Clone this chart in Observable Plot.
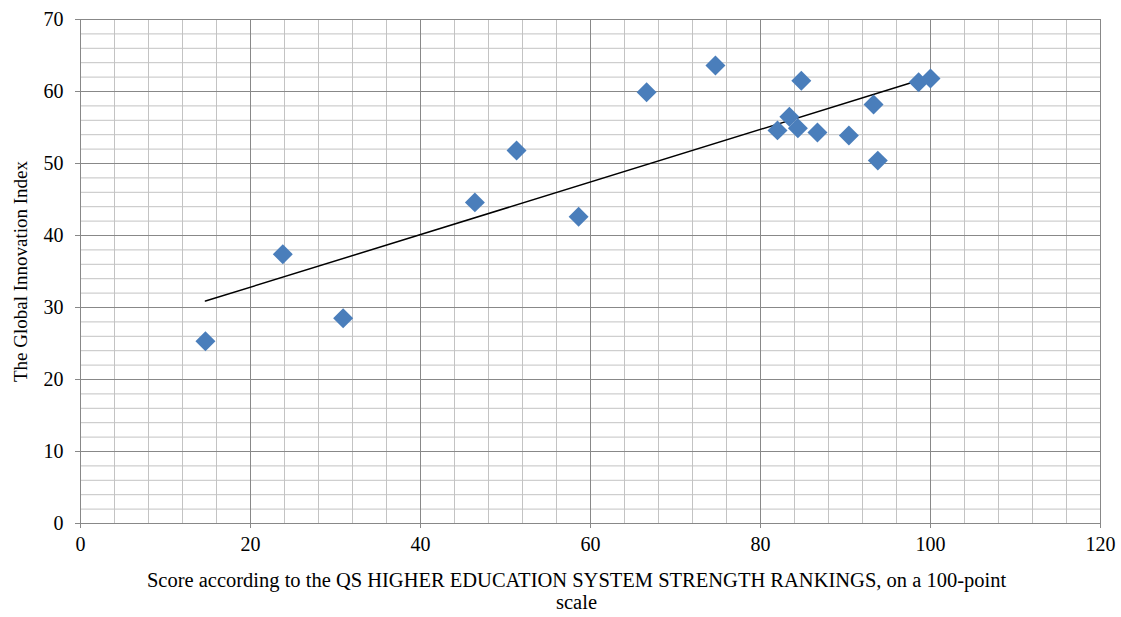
<!DOCTYPE html>
<html>
<head>
<meta charset="utf-8">
<script src="https://cdn.jsdelivr.net/npm/d3@7"></script>
<script src="https://cdn.jsdelivr.net/npm/@observablehq/plot@0.6"></script>
<style>
  html, body { margin: 0; padding: 0; background: #fff; }
</style>
</head>
<body>
<div id="chart"></div>
<script>
// QS system strength score (x) vs Global Innovation Index (y)
const qsScore = [14.7, 23.8, 30.9, 46.4, 51.3, 58.6, 66.6, 74.7, 84.8, 82.0, 83.4, 84.4, 86.7, 90.4, 93.3, 93.8, 98.6, 100.0];
const giiScore = [25.3, 37.4, 28.5, 44.6, 51.8, 42.6, 59.9, 63.6, 61.5, 54.6, 56.5, 54.9, 54.3, 53.9, 58.2, 50.4, 61.3, 61.8];

const xTicks = [0, 20, 40, 60, 80, 100, 120];
const yTicks = [0, 10, 20, 30, 40, 50, 60, 70];
const xMinor = d3.range(0, 121, 4);
const yMinor = d3.range(0, 71, 2);

const xTitle = "Score according to the QS HIGHER EDUCATION SYSTEM STRENGTH RANKINGS, on a 100-point\nscale";
const yTitle = "The Global Innovation Index";

const data = qsScore.map((x, i) => ({x, y: giiScore[i]}));

const minorColor = "#c3c3c3";
const majorColor = "#888888";

const chart = Plot.plot({
  width: 1121,
  height: 617,
  marginLeft: 80,
  marginRight: 21,
  marginTop: 19,
  marginBottom: 94,
  style: {fontFamily: "'Liberation Serif', 'Times New Roman', serif", fontSize: "20px", color: "black", background: "white"},
  x: {domain: [0, 120]},
  y: {domain: [0, 70]},
  marks: [
    Plot.gridX(xMinor, {stroke: minorColor, strokeOpacity: 1, strokeWidth: 1}),
    Plot.gridY(yMinor, {stroke: minorColor, strokeOpacity: 1, strokeWidth: 1}),
    Plot.gridX(xTicks, {stroke: majorColor, strokeOpacity: 1, strokeWidth: 1}),
    Plot.gridY(yTicks, {stroke: majorColor, strokeOpacity: 1, strokeWidth: 1}),
    Plot.frame({stroke: majorColor, strokeWidth: 1}),
    Plot.axisX(xTicks, {tickSize: 5, tickPadding: 8, stroke: majorColor, fill: "black", label: null, fontSize: 20}),
    Plot.axisY(yTicks, {tickSize: 5, tickPadding: 12, stroke: majorColor, fill: "black", label: null, fontSize: 20}),
    Plot.linearRegressionY(data, {x: "x", y: "y", stroke: "black", strokeWidth: 1.5, ci: 0}),
    Plot.dot(data, {x: "x", y: "y", symbol: "diamond2", r: 9, fill: "#4a7ebb", stroke: "none"}),
    Plot.text([xTitle], {frameAnchor: "bottom", textAnchor: "middle", lineAnchor: "top", dx: -14, dy: 48, lineHeight: 1.08, fontSize: 20.5, fill: "black"}),
    Plot.text([yTitle], {frameAnchor: "left", textAnchor: "middle", rotate: -90, dx: -60, dy: 0, fontSize: 19, fill: "black"})
  ]
});
document.getElementById("chart").appendChild(chart);
</script>
</body>
</html>
